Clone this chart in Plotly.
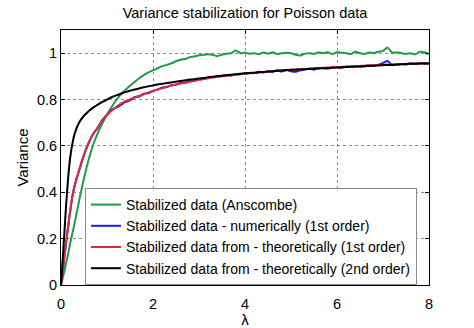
import plotly.graph_objects as go

# Poisson intensity grid (denser near zero where the curves are steep)
lam = [0, 0.01, 0.025, 0.05, 0.075, 0.1, 0.15, 0.2, 0.25] + [round(0.3 + 0.1 * i, 1) for i in range(78)]

var_anscombe = [
    0, 0.008, 0.02, 0.04, 0.06, 0.085, 0.13, 0.18, 0.225,
    0.27, 0.37, 0.46, 0.54, 0.605, 0.655, 0.697, 0.735, 0.768, 0.797,
    0.822, 0.841, 0.859, 0.876, 0.892, 0.905, 0.917, 0.926, 0.935, 0.944,
    0.95, 0.956, 0.965, 0.972, 0.975, 0.983, 0.986, 0.991, 0.993, 0.995,
    0.993, 0.987, 0.994, 0.998, 1.0, 1.012, 1.0, 1.002, 0.998, 1.0,
    0.996, 1.003, 0.998, 1.004, 0.996, 1.0, 1.002, 1.0, 0.993, 0.99,
    0.998, 1.0, 0.997, 1.003, 1.0, 1.004, 0.996, 1.004, 1.002, 1.0,
    0.996, 1.006, 1.0, 0.997, 1.003, 1.0, 1.006, 1.01, 1.024, 1.002,
    1.004, 1.0, 0.997, 1.0, 0.995, 1.006, 1.004, 0.996,
]

var_numeric = [
    0, 0.017, 0.042, 0.083, 0.125, 0.165, 0.245, 0.32, 0.385,
    0.432, 0.498, 0.562, 0.611, 0.652, 0.678, 0.712, 0.733, 0.755, 0.765,
    0.777, 0.79, 0.796, 0.81, 0.813, 0.825, 0.828, 0.838, 0.843, 0.852,
    0.854, 0.862, 0.864, 0.871, 0.872, 0.879, 0.88, 0.887, 0.889, 0.895,
    0.897, 0.9, 0.902, 0.906, 0.904, 0.909, 0.91, 0.913, 0.915, 0.914,
    0.92, 0.917, 0.922, 0.919, 0.926, 0.921, 0.927, 0.922, 0.92, 0.926,
    0.93, 0.934, 0.929, 0.935, 0.936, 0.933, 0.939, 0.94, 0.937, 0.943,
    0.941, 0.945, 0.942, 0.944, 0.948, 0.946, 0.95, 0.958, 0.966, 0.948,
    0.951, 0.953, 0.951, 0.955, 0.954, 0.957, 0.956, 0.955,
]

var_theory1 = [
    0, 0.017, 0.042, 0.083, 0.125, 0.165, 0.245, 0.32, 0.385,
    0.43, 0.5, 0.56, 0.613, 0.65, 0.68, 0.71, 0.735, 0.752, 0.768,
    0.782, 0.793, 0.801, 0.809, 0.816, 0.823, 0.83, 0.837, 0.843, 0.849,
    0.855, 0.86, 0.865, 0.869, 0.873, 0.877, 0.881, 0.885, 0.889, 0.892,
    0.895, 0.898, 0.9, 0.903, 0.905, 0.907, 0.909, 0.911, 0.913, 0.915,
    0.917, 0.918, 0.92, 0.922, 0.924, 0.926, 0.927, 0.928, 0.93, 0.931,
    0.932, 0.933, 0.935, 0.936, 0.937, 0.938, 0.939, 0.94, 0.941, 0.942,
    0.943, 0.944, 0.945, 0.946, 0.947, 0.948, 0.949, 0.95, 0.951, 0.951,
    0.952, 0.953, 0.954, 0.955, 0.955, 0.956, 0.956, 0.957,
]

var_theory2 = [
    0, 0.03, 0.075, 0.15, 0.23, 0.31, 0.45, 0.55, 0.612,
    0.655, 0.703, 0.73, 0.75, 0.765, 0.778, 0.79, 0.8, 0.81, 0.818,
    0.825, 0.832, 0.838, 0.843, 0.848, 0.853, 0.857, 0.861, 0.865, 0.868,
    0.871, 0.874, 0.877, 0.88, 0.883, 0.886, 0.888, 0.891, 0.893, 0.896,
    0.898, 0.901, 0.903, 0.905, 0.907, 0.909, 0.911, 0.913, 0.915, 0.916,
    0.918, 0.919, 0.921, 0.922, 0.924, 0.925, 0.927, 0.928, 0.929, 0.93,
    0.931, 0.932, 0.933, 0.934, 0.935, 0.936, 0.937, 0.938, 0.939, 0.94,
    0.941, 0.942, 0.943, 0.944, 0.945, 0.946, 0.947, 0.948, 0.949, 0.95,
    0.951, 0.952, 0.953, 0.954, 0.954, 0.955, 0.955, 0.956,
]

series = [
    ("Stabilized data (Anscombe)", var_anscombe, "#1e9b46"),
    ("Stabilized data - numerically (1st order)", var_numeric, "#1a1ae6"),
    ("Stabilized data from - theoretically (1st order)", var_theory1, "#dc2a40"),
    ("Stabilized data from - theoretically (2nd order)", var_theory2, "#000000"),
]

font_family = "Liberation Sans, Arial, sans-serif"

fig = go.Figure()
for name, values, color in series:
    fig.add_trace(go.Scatter(
        x=lam, y=values, mode="lines", name=name, legendgroup=name,
        line=dict(color=color, width=2, shape="spline", smoothing=0.6),
    ))

axis_style = dict(
    showline=True, linecolor="black", linewidth=1, mirror="ticks",
    ticks="inside", ticklen=4, tickcolor="black", automargin=False,
    showgrid=True, gridcolor="#8c8c8c", gridwidth=1, griddash="dot",
    zeroline=False, tickfont=dict(size=14.5, color="black", family=font_family),
)

fig.update_layout(
    width=474, height=328,
    margin=dict(l=61, r=45, t=30, b=43),
    paper_bgcolor="white", plot_bgcolor="white",
    font=dict(family=font_family, color="black", size=14),
    title=dict(text="Variance stabilization for Poisson data", x=0.517, xanchor="center",
               y=0.96, yanchor="middle", font=dict(size=14.5), automargin=False),
    xaxis=dict(range=[0, 8], tickvals=[0, 2, 4, 6, 8], ticklabelstandoff=6,
               title=dict(text="λ", standoff=2, font=dict(size=15)), **axis_style),
    yaxis=dict(range=[0, 1.1], tickvals=[0, 0.2, 0.4, 0.6, 0.8, 1],
               ticktext=["0", "0.2", "0.4", "0.6", "0.8", "1"],
               title=dict(text="Variance", standoff=4, font=dict(size=15)), **axis_style),
    legend=dict(x=0.065, y=0.0, xanchor="left", yanchor="bottom",
                bgcolor="white", bordercolor="#8a8a8a", borderwidth=1,
                font=dict(size=14), tracegroupgap=0, itemwidth=30),
    showlegend=True,
)

fig.write_html("out.html")
